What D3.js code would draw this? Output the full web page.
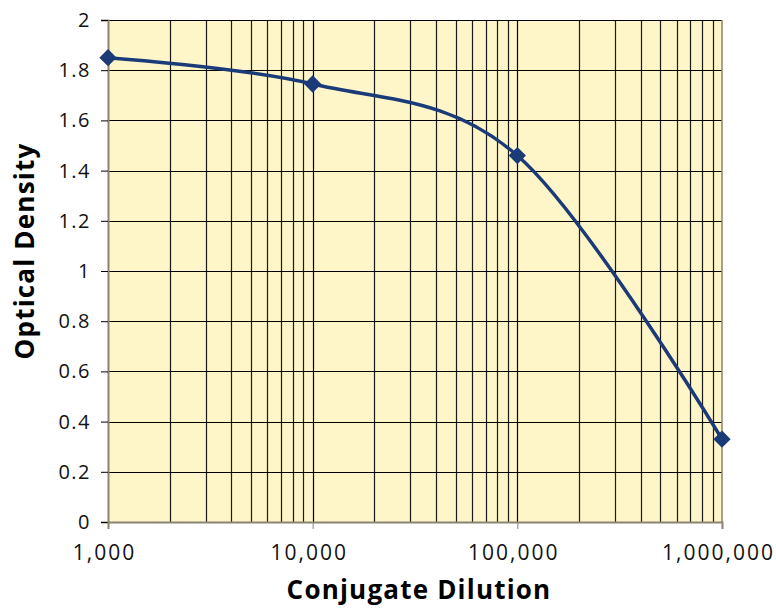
<!DOCTYPE html>
<html>
<meta charset="utf-8">
<style>
  body { margin: 0; background: #fff; }
  text { font-family: "Open Sans", "Lato", sans-serif; }
</style>
<script src="https://d3js.org/d3.v7.min.js"></script>
<body>
<script>
  var svgWidth = 776, svgHeight = 608;

  var dilutions = [1000, 10000, 100000, 1000000];
  var density = [1.85, 1.745, 1.46, 0.33];
  var yTicks = [0, 0.2, 0.4, 0.6, 0.8, 1, 1.2, 1.4, 1.6, 1.8, 2];
  var xTicks = [1000, 10000, 100000, 1000000];

  var margin = { left: 108, right: 54, top: 20, bottom: 86 };
  var w = svgWidth - margin.left - margin.right;
  var h = svgHeight - margin.top - margin.bottom;

  var svg = d3.select("body").append("svg")
    .attr("width", svgWidth)
    .attr("height", svgHeight);

  var g = svg.append("g").attr("transform", "translate(" + margin.left + "," + margin.top + ")");

  var x = d3.scaleLog().domain([1000, 1000000]).range([0, w]);
  var y = d3.scaleLinear().domain([0, 2]).range([h, 0]);

  g.append("rect").attr("width", w).attr("height", h).attr("fill", "#fef5c8");

  // minor vertical grid (2..9 in each decade)
  var minor = [];
  xTicks.slice(0, -1).forEach(function(d) {
    for (var k = 2; k <= 9; k++) minor.push(d * k);
  });
  g.selectAll(".vminor").data(minor).enter().append("line")
    .attr("x1", function(d) { return Math.round(x(d)) + 0.5; })
    .attr("x2", function(d) { return Math.round(x(d)) + 0.5; })
    .attr("y1", 0).attr("y2", h)
    .attr("stroke", "#1a1a1a").attr("stroke-width", 1.2);

  g.selectAll(".vmajor").data(xTicks.slice(1, -1)).enter().append("line")
    .attr("x1", function(d) { return Math.round(x(d)) + 0.5; })
    .attr("x2", function(d) { return Math.round(x(d)) + 0.5; })
    .attr("y1", 0).attr("y2", h)
    .attr("stroke", "#000").attr("stroke-width", 1.2);

  g.selectAll(".hgrid").data(yTicks.slice(1)).enter().append("line")
    .attr("x1", 0).attr("x2", w)
    .attr("y1", function(d) { return Math.round(y(d)) + 0.5; })
    .attr("y2", function(d) { return Math.round(y(d)) + 0.5; })
    .attr("stroke", "#000").attr("stroke-width", 1.2);

  // right border
  g.append("line").attr("x1", w).attr("x2", w).attr("y1", 0).attr("y2", h)
    .attr("stroke", "#8a8470").attr("stroke-width", 1.5);

  // axes
  var yAxis = g.append("g")
    .call(d3.axisLeft(y).tickValues(yTicks).tickSize(7).tickPadding(10)
      .tickFormat(function(d) { return d3.format("")(d); }));
  yAxis.select(".domain").attr("stroke", "#8a8470").attr("stroke-width", 2);
  yAxis.selectAll(".tick line").attr("stroke", "#000");
  yAxis.selectAll("text").attr("font-size", 20).attr("letter-spacing", 1.5).attr("fill", "#111");

  var xAxis = g.append("g").attr("transform", "translate(0," + h + ")")
    .call(d3.axisBottom(x).tickValues(xTicks).tickSize(7).tickPadding(16)
      .tickFormat(d3.format(",")));
  xAxis.select(".domain").attr("stroke", "#8a8470").attr("stroke-width", 2);
  xAxis.selectAll(".tick line").attr("stroke", "#8a8470");
  xAxis.selectAll("text").attr("font-size", 21).attr("letter-spacing", 2)
    .attr("dx", -4).attr("fill", "#111");

  // series
  var pts = dilutions.map(function(d, i) { return [d, density[i]]; });
  var line = d3.line()
    .x(function(d) { return x(d[0]); })
    .y(function(d) { return y(d[1]); })
    .curve(d3.curveCardinal.tension(0));

  g.append("path").datum(pts).attr("d", line)
    .attr("fill", "none").attr("stroke", "#1b3a78").attr("stroke-width", 3.5);

  g.selectAll(".pt").data(pts).enter().append("path")
    .attr("d", d3.symbol().type(d3.symbolDiamond2).size(190))
    .attr("transform", function(d) { return "translate(" + x(d[0]) + "," + y(d[1]) + ")"; })
    .attr("fill", "#1b3a78");

  // titles
  svg.append("text")
    .attr("x", 419).attr("y", 599)
    .attr("text-anchor", "middle").attr("font-size", 26).attr("font-weight", "bold")
    .attr("letter-spacing", 1.2)
    .text("Conjugate Dilution");

  svg.append("text")
    .attr("transform", "translate(34,251) rotate(-90)")
    .attr("text-anchor", "middle").attr("font-size", 26).attr("font-weight", "bold")
    .attr("letter-spacing", 1.2)
    .text("Optical Density");
</script>
</body>
</html>
